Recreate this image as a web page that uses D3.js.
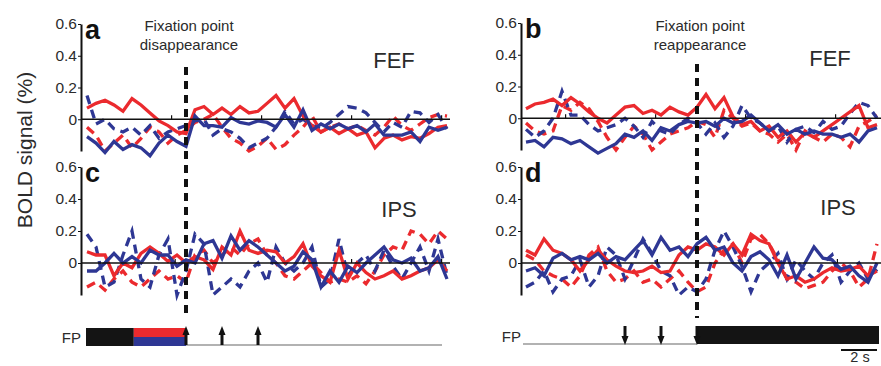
<!DOCTYPE html>
<html>
<head>
<meta charset="utf-8">
<script src="https://cdn.jsdelivr.net/npm/d3@7"></script>
<style>
body { margin: 0; background: #fff; }
svg text { font-family: "Liberation Sans", Arial, sans-serif; fill: #2b2b2b; }
</style>
</head>
<body>
<svg id="vis" width="881" height="366"></svg>
<script>
// time in s relative to the fixation point event, sampled every 0.5 s
var timesLeft = d3.range(-5.5, 14.75, 0.5);   // 41 samples
var timesRight = d3.range(-9.5, 10.25, 0.5);  // 40 samples

var yTicks = [0.6, 0.4, 0.2, 0];
var yTickLabels = ["0.6", "0.4", "0.2", "0"];

// a: FEF, disappearance
var aRedSolid = [0.07,0.10,0.12,0.09,0.05,0.13,0.09,0.04,-0.01,-0.04,-0.08,-0.09,0.06,0.08,0.03,0.07,0.03,0.08,0.04,0.05,0.10,0.15,0.07,0.13,0.02,-0.04,-0.08,-0.05,-0.09,-0.06,-0.10,-0.08,-0.18,-0.12,-0.10,-0.13,-0.11,-0.12,-0.09,-0.05,-0.04];
var aRedDash = [-0.05,-0.10,-0.20,-0.15,-0.10,-0.18,-0.12,-0.05,-0.08,-0.15,-0.10,-0.07,-0.02,0.00,0.03,-0.05,-0.12,-0.15,-0.20,-0.17,-0.12,-0.19,-0.16,-0.10,-0.05,0.02,-0.08,-0.05,-0.03,-0.06,-0.04,-0.07,-0.10,-0.05,0.02,-0.04,-0.07,-0.03,0.01,0.03,0.02];
var aBlueSolid = [-0.11,-0.15,-0.21,-0.14,-0.19,-0.16,-0.18,-0.23,-0.15,-0.10,-0.14,-0.17,0.02,-0.04,-0.04,-0.05,0.01,-0.02,-0.03,-0.01,-0.02,-0.05,0.03,-0.05,0.06,-0.07,-0.03,-0.06,-0.03,-0.06,-0.04,-0.08,-0.03,-0.10,-0.10,-0.10,-0.08,-0.14,-0.05,-0.07,-0.05];
var aBlueDash = [0.15,-0.03,0.00,-0.06,-0.08,-0.05,-0.10,-0.04,-0.12,-0.08,-0.06,-0.04,-0.01,0.00,-0.10,-0.06,-0.08,-0.12,-0.18,-0.15,-0.12,-0.05,0.05,-0.03,0.00,-0.04,-0.06,-0.02,0.03,0.08,0.07,0.04,-0.02,-0.08,-0.02,-0.05,0.05,0.04,-0.02,0.03,-0.06];

// b: FEF, reappearance
var bRedSolid = [0.06,0.09,0.10,0.12,0.08,0.13,0.09,0.04,0.00,-0.03,0.02,0.07,0.08,0.03,0.05,0.02,0.07,0.04,0.02,0.07,0.15,0.06,0.13,0.01,-0.04,-0.02,-0.08,-0.05,-0.12,-0.08,-0.15,-0.09,-0.12,-0.08,-0.04,0.00,0.04,0.08,-0.06,-0.04];
var bRedDash = [-0.03,-0.08,-0.10,-0.08,0.08,0.05,0.10,0.06,-0.02,-0.12,-0.20,-0.12,-0.05,-0.10,-0.20,-0.15,-0.10,-0.08,-0.06,-0.02,-0.04,-0.12,0.05,0.00,-0.05,-0.03,-0.08,-0.10,-0.15,-0.10,-0.20,-0.08,-0.12,-0.15,-0.10,-0.12,-0.18,-0.05,-0.02,0.02];
var bBlueSolid = [-0.15,-0.14,-0.18,-0.12,-0.13,-0.16,-0.14,-0.18,-0.22,-0.19,-0.16,-0.10,-0.12,-0.08,-0.14,-0.06,-0.08,-0.04,-0.02,-0.03,-0.02,-0.05,0.00,-0.03,-0.02,0.02,-0.03,-0.08,-0.04,-0.10,-0.07,-0.10,-0.08,-0.10,-0.10,-0.12,-0.10,-0.15,-0.08,-0.06];
var bBlueDash = [-0.07,-0.12,-0.08,0.00,0.17,0.02,0.02,-0.04,-0.08,-0.06,-0.04,0.00,-0.05,-0.12,-0.02,-0.08,-0.10,-0.04,0.00,-0.03,-0.10,-0.03,-0.12,-0.05,0.08,0.00,-0.03,-0.08,-0.05,-0.15,-0.07,-0.05,-0.09,-0.02,-0.07,-0.05,0.03,0.10,0.08,0.00];

// c: IPS, disappearance
var cRedSolid = [0.07,0.05,0.05,-0.08,0.00,-0.03,0.06,0.10,0.06,0.01,0.05,0.00,0.04,0.02,-0.04,0.10,0.05,0.20,0.08,0.06,0.08,0.07,0.00,0.04,0.12,-0.02,-0.08,-0.12,0.08,-0.10,0.00,-0.06,-0.10,-0.08,-0.05,-0.10,-0.08,-0.05,-0.03,0.02,-0.05];
var cRedDash = [-0.15,-0.12,-0.17,-0.10,-0.05,-0.12,-0.15,-0.10,-0.05,-0.10,-0.08,-0.12,0.05,0.08,0.00,0.05,0.10,0.05,0.12,0.15,0.05,0.00,-0.08,-0.10,-0.05,0.00,-0.06,-0.12,-0.10,-0.12,-0.08,-0.13,-0.05,0.05,0.10,0.08,0.20,0.18,0.12,0.20,0.15];
var cBlueSolid = [-0.05,-0.05,0.00,0.06,0.00,0.04,0.00,0.08,0.05,0.05,-0.02,0.02,0.00,0.12,0.14,0.03,0.17,0.08,0.14,0.10,0.05,0.00,-0.05,-0.02,0.07,0.02,-0.15,-0.05,-0.12,-0.02,-0.06,0.00,0.05,0.10,0.02,0.00,0.03,-0.05,-0.03,0.04,-0.10];
var cBlueDash = [0.18,0.10,-0.15,-0.12,0.05,0.20,-0.10,-0.15,0.05,0.15,-0.20,-0.05,0.18,0.12,-0.20,-0.15,-0.10,-0.15,-0.05,0.00,-0.12,0.10,0.00,-0.05,0.00,0.10,-0.15,-0.10,0.15,-0.08,0.00,0.05,-0.05,0.08,-0.02,-0.10,0.00,0.10,-0.05,0.15,-0.08];

// d: IPS, reappearance
var dRedSolid = [0.08,0.05,0.15,0.08,0.06,0.02,-0.05,0.02,0.08,0.02,-0.02,-0.05,-0.06,-0.05,-0.02,-0.06,-0.05,0.05,0.10,0.08,0.12,0.10,0.05,0.12,0.05,0.18,0.14,0.12,0.00,-0.10,-0.08,-0.12,-0.10,-0.06,-0.03,-0.05,-0.04,-0.02,-0.08,-0.05];
var dRedDash = [0.05,0.02,-0.05,-0.08,-0.10,-0.15,-0.08,0.05,0.10,-0.05,-0.12,-0.10,-0.05,-0.12,-0.10,-0.15,-0.10,-0.05,-0.12,-0.18,-0.15,0.00,0.08,0.12,0.00,0.15,0.18,0.12,0.02,-0.10,-0.12,-0.16,-0.14,-0.12,-0.05,0.00,-0.05,-0.15,-0.10,0.12];
var dBlueSolid = [-0.05,-0.03,-0.08,0.03,0.06,0.02,0.04,0.02,0.06,0.00,0.04,0.02,0.08,0.14,0.05,0.16,0.08,0.10,0.04,0.12,0.16,0.08,0.10,0.00,-0.05,0.04,0.07,0.02,-0.08,0.05,-0.10,0.00,0.10,0.03,0.02,-0.04,-0.02,-0.08,-0.12,0.00];
var dBlueDash = [-0.15,-0.12,-0.05,-0.18,-0.10,-0.08,0.02,-0.15,-0.08,0.10,0.05,-0.10,0.02,0.15,0.06,-0.05,-0.08,-0.20,-0.15,-0.18,-0.10,0.08,0.20,0.10,-0.02,-0.18,-0.05,0.00,0.06,-0.10,0.02,-0.05,-0.10,0.00,0.05,-0.12,-0.05,0.00,-0.10,-0.04];

// fixation point timeline: [start, end] in s, and arrow times
var fpLeftBlack = [-5.5, -2.9];
var fpLeftColor = [-2.9, 0];
var fpLeftArrows = [0, 2, 4];
var fpRightArrows = [-4, -2, 0];

var red = "#eb2a2e", blue = "#2e3794";

var svg = d3.select("#vis");

function drawPanel(p)
{
	var x = d3.scaleLinear().domain(p.tdomain).range(p.xrange);
	var y = d3.scaleLinear().domain([-0.2, 0.6]).range(p.yrange);
	var g = svg.append("g");

	// y axis
	var yAxis = d3.axisLeft(y).tickValues(yTicks).tickSize(3).tickSizeOuter(0)
		.tickFormat(function(d, i) { return yTickLabels[i]; });
	var ax = g.append("g").attr("transform", "translate(" + p.axisX + ",0)").call(yAxis);
	ax.select(".domain").attr("stroke", "#111").attr("stroke-width", 2);
	ax.selectAll(".tick line").attr("stroke", "#111");
	ax.selectAll(".tick text").attr("x", -4).style("font-size", "15.5px").style("font-family", "Liberation Sans, Arial, sans-serif").attr("fill", "#2b2b2b");

	var line = d3.line()
		.x(function(d, i) { return x(p.times[i]); })
		.y(function(d) { return y(d); });

	var series = [
		{v: p.redDash, c: red, dash: "9,6"},
		{v: p.blueDash, c: blue, dash: "9,6"},
		{v: p.redSolid, c: red, dash: null},
		{v: p.blueSolid, c: blue, dash: null}
	];
	series.forEach(function(s) {
		g.append("path").attr("d", line(s.v))
			.attr("fill", "none").attr("stroke", s.c).attr("stroke-width", 3.3)
			.attr("stroke-linejoin", "miter").attr("stroke-dasharray", s.dash);
	});

	// zero line with small time ticks
	g.append("line").attr("x1", p.axisX).attr("x2", p.zeroEnd)
		.attr("y1", y(0)).attr("y2", y(0)).attr("stroke", "#111").attr("stroke-width", 1.6);
	p.zeroTicks.forEach(function(t) {
		g.append("line").attr("x1", x(t)).attr("x2", x(t))
			.attr("y1", y(0)).attr("y2", y(0) - 4).attr("stroke", "#111").attr("stroke-width", 1.2);
	});

	g.append("text").attr("x", p.axisX + 4).attr("y", y(0.6) + 15)
		.style("font-size", "27px").style("font-weight", "bold").style("fill", "#111").text(p.letter);
	g.append("text").attr("x", p.areaX).attr("y", y(0.6) + p.areaDy)
		.attr("text-anchor", "middle").style("font-size", "22px").text(p.area);
	return x;
}

var xa = drawPanel({times: timesLeft, tdomain: [-5.5, 14.5], xrange: [87, 447], yrange: [151, 24], axisX: 81, zeroEnd: 450,
	redSolid: aRedSolid, redDash: aRedDash, blueSolid: aBlueSolid, blueDash: aBlueDash,
	zeroTicks: [-0.8, 4.2, 9.2, 14.2], letter: "a", area: "FEF", areaX: 394, areaDy: 44});
var xb = drawPanel({times: timesRight, tdomain: [-9.5, 10], xrange: [526, 877], yrange: [150, 23], axisX: 521, zeroEnd: 881,
	redSolid: bRedSolid, redDash: bRedDash, blueSolid: bBlueSolid, blueDash: bBlueDash,
	zeroTicks: [-7.3, -2.3, 2.7, 7.7], letter: "b", area: "FEF", areaX: 830, areaDy: 43});
drawPanel({times: timesLeft, tdomain: [-5.5, 14.5], xrange: [87, 447], yrange: [295, 167], axisX: 81, zeroEnd: 450,
	redSolid: cRedSolid, redDash: cRedDash, blueSolid: cBlueSolid, blueDash: cBlueDash,
	zeroTicks: [-0.6, 9.2, 14.2], letter: "c", area: "IPS", areaX: 399, areaDy: 50});
drawPanel({times: timesRight, tdomain: [-9.5, 10], xrange: [526, 877], yrange: [295, 167], axisX: 521, zeroEnd: 881,
	redSolid: dRedSolid, redDash: dRedDash, blueSolid: dBlueSolid, blueDash: dBlueDash,
	zeroTicks: [-2.2, 7.8], letter: "d", area: "IPS", areaX: 838, areaDy: 48});

// event markers
[{x: xa(0), top: 67, label: "disappearance"}, {x: xb(0), top: 64, label: "reappearance"}].forEach(function(m) {
	svg.append("line").attr("x1", m.x).attr("x2", m.x).attr("y1", m.top).attr("y2", 318)
		.attr("stroke", "#111").attr("stroke-width", 4).attr("stroke-dasharray", "8,6");
	svg.append("text").attr("x", m.x + 3).attr("y", 31).attr("text-anchor", "middle")
		.style("font-size", "15px").text("Fixation point");
	svg.append("text").attr("x", m.x + 3).attr("y", 50).attr("text-anchor", "middle")
		.style("font-size", "15px").text(m.label);
});

// y label
svg.append("text").attr("transform", "translate(32,150) rotate(-90)").attr("text-anchor", "middle")
	.style("font-size", "21px").text("BOLD signal (%)");

// FP timelines
svg.append("text").attr("x", 81).attr("y", 343).attr("text-anchor", "end").style("font-size", "15px").text("FP");
svg.append("text").attr("x", 521).attr("y", 342).attr("text-anchor", "end").style("font-size", "15px").text("FP");

svg.append("line").attr("x1", xa(0)).attr("x2", 442).attr("y1", 345).attr("y2", 345).attr("stroke", "#999").attr("stroke-width", 1.6);
svg.append("rect").attr("x", xa(fpLeftBlack[0]) - 1).attr("y", 328).attr("width", xa(fpLeftBlack[1]) - xa(fpLeftBlack[0]) + 1).attr("height", 18).attr("fill", "#141414");
svg.append("rect").attr("x", xa(fpLeftColor[0])).attr("y", 328).attr("width", xa(fpLeftColor[1]) - xa(fpLeftColor[0])).attr("height", 9).attr("fill", red);
svg.append("rect").attr("x", xa(fpLeftColor[0])).attr("y", 337).attr("width", xa(fpLeftColor[1]) - xa(fpLeftColor[0])).attr("height", 9).attr("fill", blue);

svg.append("line").attr("x1", 523).attr("x2", xb(0)).attr("y1", 344).attr("y2", 344).attr("stroke", "#999").attr("stroke-width", 1.6);
svg.append("rect").attr("x", xb(0)).attr("y", 326).attr("width", 879 - xb(0)).attr("height", 18).attr("fill", "#141414");

fpLeftArrows.forEach(function(t) {
	var ax = xa(t);
	svg.append("line").attr("x1", ax).attr("x2", ax).attr("y1", 345).attr("y2", 333).attr("stroke", "#111").attr("stroke-width", 3);
	svg.append("path").attr("d", "M" + (ax - 3.5) + ",335 L" + ax + ",326 L" + (ax + 3.5) + ",335 Z").attr("fill", "#111");
});
fpRightArrows.forEach(function(t) {
	var ax = xb(t);
	svg.append("line").attr("x1", ax).attr("x2", ax).attr("y1", 326).attr("y2", 338).attr("stroke", "#111").attr("stroke-width", 3);
	svg.append("path").attr("d", "M" + (ax - 3.5) + ",336 L" + ax + ",345 L" + (ax + 3.5) + ",336 Z").attr("fill", "#111");
});

// 2 s scale bar
svg.append("line").attr("x1", xb(8)).attr("x2", xb(10)).attr("y1", 350).attr("y2", 350).attr("stroke", "#111").attr("stroke-width", 2);
svg.append("text").attr("x", xb(9) + 1).attr("y", 362).attr("text-anchor", "middle").style("font-size", "14.5px").text("2 s");
</script>
</body>
</html>
